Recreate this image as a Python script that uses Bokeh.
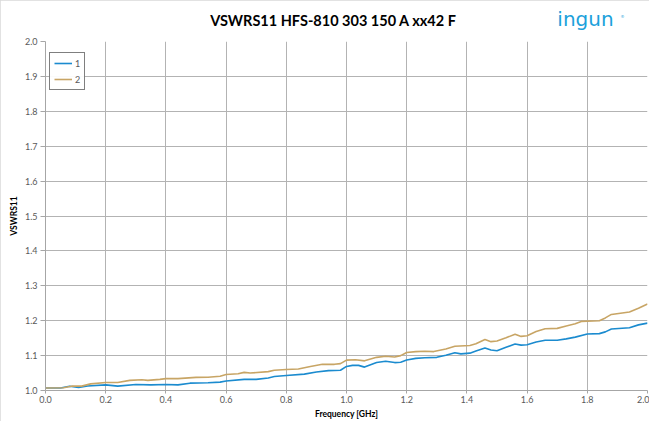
from bokeh.plotting import figure
from bokeh.models import Label, Legend, LegendItem, FixedTicker, Range1d, NumeralTickFormatter
from bokeh.embed import file_html
from bokeh.resources import INLINE

title_text = "VSWRS11 HFS-810 303 150 A xx42 F"
logo_text = "ingun"
logo_mark = "®"
x_label = "Frequency [GHz]"
y_label = "VSWRS11"
series_names = ["1", "2"]

freq_1 = [0.00, 0.05, 0.08, 0.11, 0.14, 0.20, 0.24, 0.30, 0.35, 0.40, 0.44, 0.48, 0.54, 0.58,
          0.60, 0.66, 0.70, 0.74, 0.76, 0.80, 0.86, 0.90, 0.94, 0.98, 1.00, 1.02, 1.04, 1.06,
          1.10, 1.13, 1.16, 1.18, 1.20, 1.23, 1.26, 1.30, 1.33, 1.36, 1.38, 1.41, 1.43, 1.46,
          1.48, 1.50, 1.53, 1.56, 1.58, 1.60, 1.63, 1.66, 1.70, 1.73, 1.76, 1.80, 1.84, 1.86,
          1.88, 1.94, 1.97, 2.00]
vswr_1 = [1.007, 1.007, 1.012, 1.009, 1.013, 1.016, 1.0125, 1.017, 1.016, 1.017, 1.016, 1.021,
          1.022, 1.024, 1.027, 1.032, 1.032, 1.036, 1.040, 1.043, 1.047, 1.053, 1.057, 1.058,
          1.069, 1.072, 1.072, 1.067, 1.080, 1.084, 1.080, 1.081, 1.0875, 1.092, 1.094, 1.095,
          1.101, 1.108, 1.105, 1.107, 1.113, 1.122, 1.116, 1.114, 1.124, 1.133, 1.130, 1.131,
          1.139, 1.144, 1.144, 1.148, 1.153, 1.162, 1.163, 1.168, 1.176, 1.180, 1.188, 1.193]

freq_2 = [0.00, 0.06, 0.09, 0.12, 0.15, 0.20, 0.24, 0.28, 0.32, 0.34, 0.38, 0.40, 0.44, 0.50,
          0.54, 0.58, 0.60, 0.64, 0.66, 0.68, 0.74, 0.76, 0.80, 0.84, 0.88, 0.92, 0.94, 0.96,
          0.98, 1.00, 1.03, 1.06, 1.10, 1.13, 1.16, 1.18, 1.20, 1.23, 1.26, 1.29, 1.33, 1.36,
          1.41, 1.43, 1.46, 1.48, 1.50, 1.53, 1.56, 1.58, 1.60, 1.63, 1.66, 1.70, 1.73, 1.76,
          1.78, 1.84, 1.86, 1.88, 1.94, 1.97, 2.00]
vswr_2 = [1.007, 1.008, 1.013, 1.0125, 1.019, 1.023, 1.023, 1.029, 1.031, 1.029, 1.032, 1.034,
          1.034, 1.0375, 1.038, 1.041, 1.046, 1.048, 1.052, 1.050, 1.054, 1.058, 1.060, 1.0615,
          1.069, 1.075, 1.075, 1.075, 1.077, 1.087, 1.088, 1.085, 1.095, 1.098, 1.096, 1.100,
          1.109, 1.1115, 1.1125, 1.1115, 1.119, 1.127, 1.129, 1.134, 1.146, 1.140, 1.142,
          1.151, 1.1615, 1.155, 1.157, 1.169, 1.177, 1.178, 1.185, 1.191, 1.198, 1.200, 1.208,
          1.218, 1.225, 1.2355, 1.248]

x_ticks = [0.0, 0.2, 0.4, 0.6, 0.8, 1.0, 1.2, 1.4, 1.6, 1.8, 2.0]
y_ticks = [1.0, 1.1, 1.2, 1.3, 1.4, 1.5, 1.6, 1.7, 1.8, 1.9, 2.0]

FONT = "Lato"
TEXT_GRAY = "#595959"
GRID = "#b3b3b3"

p = figure(width=649, height=421, output_backend="svg", toolbar_location=None,
           x_range=Range1d(0, 2.0), y_range=Range1d(1.0, 2.0),
           min_border_left=45, min_border_right=2, min_border_top=39, min_border_bottom=29)
p.styles = {"outline": "1px solid #d9d9d9", "outline-offset": "-1px"}
p.outline_line_color = None
p.background_fill_color = "white"

l1 = p.line(freq_1, vswr_1, line_color="#1b8bcf", line_width=1.6)
l2 = p.line(freq_2, vswr_2, line_color="#c8a565", line_width=1.6)

for ax in (p.xaxis[0], p.yaxis[0]):
    ax.major_label_text_font = FONT
    ax.major_label_text_font_size = "9px"
    ax.major_label_text_color = TEXT_GRAY
    ax.axis_label_text_font = FONT
    ax.axis_label_text_font_size = "8.5px"
    ax.axis_label_text_font_style = "bold"
    ax.axis_label_text_color = "#000000"
    ax.axis_line_color = "#a6a6a6"
    ax.major_tick_line_color = "#a6a6a6"
    ax.minor_tick_line_color = None
    ax.major_tick_in = 0

p.xaxis.major_tick_out = 3
p.yaxis.major_tick_out = 5
p.xaxis.ticker = FixedTicker(ticks=x_ticks)
p.yaxis.ticker = FixedTicker(ticks=y_ticks)
p.xaxis.formatter = NumeralTickFormatter(format="0.0")
p.yaxis.formatter = NumeralTickFormatter(format="0.0")
p.xaxis.axis_label = x_label
p.yaxis.axis_label = y_label
p.xaxis.major_label_standoff = 2
p.xaxis.axis_label_standoff = 3
p.yaxis.major_label_standoff = 3
p.yaxis.axis_label_standoff = 3

p.xgrid.grid_line_color = GRID
p.ygrid.grid_line_color = GRID

legend = Legend(items=[LegendItem(label=series_names[0], renderers=[l1]),
                       LegendItem(label=series_names[1], renderers=[l2])],
                location=(4, 300))
legend.border_line_color = "black"
legend.border_line_width = 1
legend.label_text_font = FONT
legend.label_text_font_size = "9px"
legend.label_text_color = TEXT_GRAY
legend.glyph_width = 18
legend.glyph_height = 12
legend.label_height = 12
legend.label_width = 5
legend.label_standoff = 3
legend.spacing = 4
legend.padding = 4
legend.margin = 0
p.add_layout(legend, "center")

p.add_layout(Label(x=333, y=20, x_units="canvas", y_units="canvas", text=title_text,
                   text_font=FONT, text_font_size="14.5px", text_font_style="bold",
                   text_align="center", text_baseline="middle", text_color="#000000"), "above")
p.add_layout(Label(x=585, y=18, x_units="canvas", y_units="canvas", text=logo_text,
                   text_font="DejaVu Sans", text_font_size="20px", text_align="center",
                   text_baseline="middle", text_color="#1ba1db"), "above")
p.add_layout(Label(x=622, y=16, x_units="canvas", y_units="canvas", text=logo_mark,
                   text_font="DejaVu Sans", text_font_size="4px", text_align="center",
                   text_baseline="middle", text_color="#1ba1db"), "left")

open("out.html", "w").write(file_html(p, INLINE))
